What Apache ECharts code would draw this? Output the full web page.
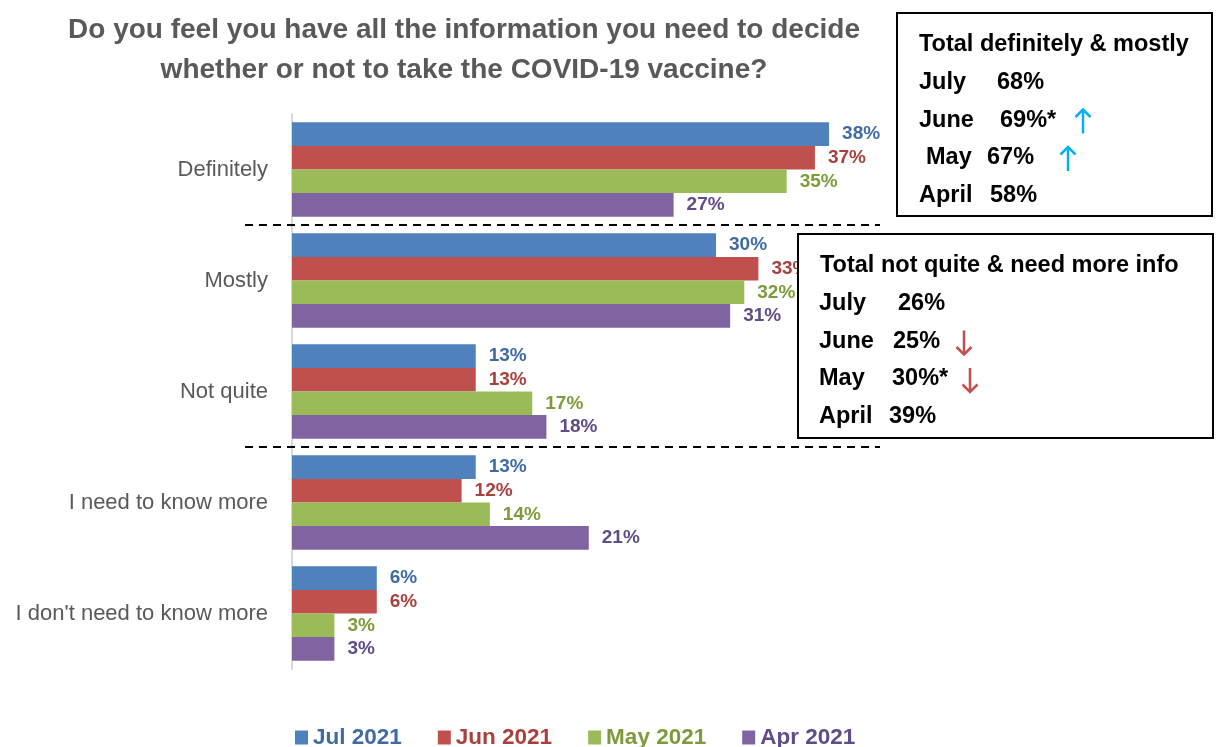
<!DOCTYPE html>
<html>
<head>
<meta charset="utf-8">
<script src="https://cdn.jsdelivr.net/npm/echarts@6/dist/echarts.min.js"></script>
<style>
  html, body { margin: 0; padding: 0; background: #fff; }
  #chart { width: 1219px; height: 747px; }
</style>
</head>
<body>
<div id="chart"></div>
<script>
// Survey answers, top to bottom
const categories = ['Definitely', 'Mostly', 'Not quite', 'I need to know more', "I don't need to know more"];

// Share of respondents per wave (%)
const seriesNames = ['Jul 2021', 'Jun 2021', 'May 2021', 'Apr 2021'];
const jul2021 = [38, 30, 13, 13, 6];
const jun2021 = [37, 33, 13, 12, 6];
const may2021 = [35, 32, 17, 14, 3];
const apr2021 = [27, 31, 18, 21, 3];

// Summary boxes
const summaryMonths = ['July', 'June', 'May', 'April'];
const totalPositive = ['68%', '69%*', '67%', '58%'];
const totalPositiveTrend = ['', 'up', 'up', ''];
const totalNegative = ['26%', '25%', '30%*', '39%'];
const totalNegativeTrend = ['', 'down', 'down', ''];

const barColors = ['#4F81BD', '#C0504D', '#9BBB59', '#8064A2'];
const labelColors = ['#3F6BA5', '#A8403D', '#7C9C3C', '#604C86'];
const FONT = "'Liberation Sans', Arial, sans-serif";

const seriesData = [jul2021, jun2021, may2021, apr2021];

const chart = echarts.init(document.getElementById('chart'), null, { renderer: 'canvas' });

const series = seriesNames.map((name, i) => ({
  name: name,
  type: 'bar',
  data: seriesData[i],
  barGap: '0%',
  barCategoryGap: '15%',
  itemStyle: { color: barColors[i] },
  label: {
    show: true,
    position: 'right',
    distance: 13,
    formatter: '{c}%',
    color: labelColors[i],
    fontFamily: FONT,
    fontWeight: 'bold',
    fontSize: 19
  }
}));

chart.setOption({
  animation: false,
  backgroundColor: '#ffffff',
  title: {
    text: 'Do you feel you have all the information you need to decide\nwhether or not to take the COVID-19 vaccine?',
    left: 459,
    top: 5,
    textAlign: 'center',
    textStyle: {
      fontFamily: FONT,
      fontSize: 28,
      fontWeight: 'bold',
      color: '#595959',
      lineHeight: 40
    }
  },
  legend: {
    left: 290,
    top: 721,
    itemWidth: 13,
    itemHeight: 14,
    itemGap: 36,
    icon: 'rect',
    data: seriesNames.map((n, i) => ({
      name: n,
      textStyle: { color: labelColors[i] }
    })),
    textStyle: { fontFamily: FONT, fontSize: 22.5, fontWeight: 'bold' }
  },
  grid: { left: 292, top: 114, width: 848, height: 555, containLabel: false },
  xAxis: {
    type: 'value',
    min: 0,
    max: 60,
    show: false
  },
  yAxis: {
    type: 'category',
    data: categories,
    inverse: true,
    axisLine: { show: true, lineStyle: { color: '#D9D9D9', width: 2 } },
    axisTick: { show: false },
    axisLabel: {
      margin: 24,
      color: '#595959',
      fontFamily: FONT,
      fontSize: 22
    }
  },
  series: series
});

// Dashed separators between answer groups, plus the summary boxes
function buildGraphics() {
  const yOf = (i) => chart.convertToPixel({ yAxisIndex: 0 }, i);
  const between = (a, b) => (yOf(a) + yOf(b)) / 2;
  const sepYs = [between(0, 1), between(2, 3)];

  const elements = [];
  sepYs.forEach((y) => {
    elements.push({
      type: 'line',
      shape: { x1: 245, y1: y, x2: 880, y2: y },
      style: { stroke: '#000', lineWidth: 2, lineDash: [8, 6] },
      z: 50
    });
  });

  function arrow(x, y, dir, color) {
    const s = dir === 'up' ? -1 : 1;
    elements.push({
      type: 'polyline',
      shape: { points: [[x, y - 12 * s], [x, y + 12 * s]] },
      style: { stroke: color, lineWidth: 2.5, fill: null },
      z: 101
    });
    elements.push({
      type: 'polyline',
      shape: { points: [[x - 7.5, y + 4.5 * s], [x, y + 12 * s], [x + 7.5, y + 4.5 * s]] },
      style: { stroke: color, lineWidth: 2.5, fill: null },
      z: 101
    });
  }

  function box(x, y, w, h, heading, values, trends, valueX, arrowX, monthX, arrowColor) {
    elements.push({
      type: 'rect',
      shape: { x: x, y: y, width: w, height: h },
      style: { fill: '#fff', stroke: '#000', lineWidth: 2 },
      z: 100
    });
    const txt = (t, tx, ty) => ({
      type: 'text',
      z: 101,
      style: {
        text: t, x: tx, y: ty,
        font: 'bold 23.5px ' + FONT,
        fill: '#000',
        textVerticalAlign: 'middle'
      }
    });
    elements.push(txt(heading, x + 22, y + 32));
    summaryMonths.forEach((m, i) => {
      const ry = y + 70 + i * 37.5;
      elements.push(txt(m, monthX[i], ry));
      elements.push(txt(values[i], valueX[i], ry));
      if (trends[i]) {
        arrow(arrowX[i], ry + 1, trends[i], arrowColor);
      }
    });
  }

  box(897, 13, 315, 203, 'Total definitely & mostly', totalPositive, totalPositiveTrend,
      [997, 1000, 987, 990], [0, 1083, 1068, 0], [919, 919, 926, 919], '#00B0F0');
  box(798, 234, 415, 204, 'Total not quite & need more info', totalNegative, totalNegativeTrend,
      [898, 893, 892, 889], [0, 964, 970, 0], [819, 819, 819, 819], '#C0504D');

  chart.setOption({ graphic: { elements: elements } });
}
buildGraphics();
</script>
</body>
</html>
